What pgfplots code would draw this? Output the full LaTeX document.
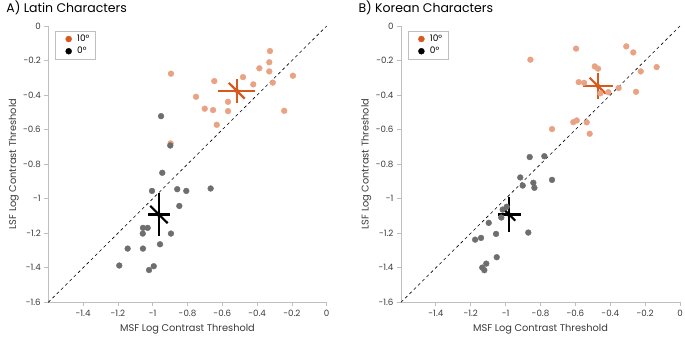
\documentclass[border=0pt]{standalone}
\usepackage{pgfplots}
\pgfplotsset{compat=1.18}
\usepackage{fontspec}
\setmainfont{Poppins}
\definecolor{orL}{HTML}{E9A283}
\definecolor{orD}{HTML}{D65A1F}
\definecolor{grP}{HTML}{6E6E6E}
\definecolor{axg}{HTML}{BFBFBF}
\definecolor{txg}{HTML}{3A3A3A}
\pgfplotsset{
  panel/.style={
    scale only axis, width=278.4pt, height=276.3pt,
    xmin=-1.6, xmax=0, ymin=-1.6, ymax=0,
    axis x line=bottom, axis y line=left,
    axis line style={-, axg, line width=1pt},
    tick style={axg, line width=0.8pt},
    major tick length=4pt, tick align=outside,
    xtick={-1.4,-1.2,-1,-0.8,-0.6,-0.4,-0.2,0},
    ytick={-1.6,-1.4,-1.2,-1,-0.8,-0.6,-0.4,-0.2,0},
    /pgf/number format/assume math mode=true,
    tick label style={font=\fontsize{8.7}{10}\selectfont, txg},
    label style={font=\fontsize{9.8}{11}\selectfont, txg},
    xlabel={MSF Log Contrast Threshold},
    ylabel={LSF Log Contrast Threshold},
    xlabel style={at={(axis description cs:0.5,-0.098)}, anchor=center},
    ylabel style={at={(axis description cs:-0.124,0.5)}, anchor=center},
    title style={at={(0,1)}, anchor=base west, font=\fontsize{12.5}{14}\selectfont, black},
    legend style={at={(axis description cs:0.024,0.982)}, anchor=north west,
      draw=axg, font=\fontsize{9}{10}\selectfont,
      nodes={inner xsep=3pt, inner ysep=1.8pt},
      row sep=0.5pt},
    legend cell align=left,
    clip=false,
  },
  lgimg/.style={legend image code/.code={%
      \path[draw=none, fill=none] (0pt,0pt) -- (16pt,0pt);
      \draw[##1] plot coordinates {(10.5pt,0pt)};}},
  orpts/.style={only marks, mark=*, mark size=2.9pt, color=orL},
  grpts/.style={only marks, mark=*, mark size=2.9pt, color=grP},
}
\begin{document}
\begin{tikzpicture}
\path[use as bounding box] (0,0) rectangle (685pt,338pt);
% ---------------- Panel A ----------------
\begin{axis}[panel, at={(48.3pt,35.7pt)}, anchor=south west,
  title={A) Latin Characters}, title style={xshift=-45.5pt, yshift=7pt}]
\addlegendimage{only marks, mark=*, mark size=3pt, color=orD, lgimg}
\addlegendentry{10°}
\addlegendimage{only marks, mark=*, mark size=3pt, color=black, lgimg}
\addlegendentry{0°}
\addplot[black, dashed, line width=0.6pt, forget plot] coordinates {(-1.6,-1.6) (0,0)};
\addplot[orpts, forget plot] coordinates {
(-0.895,-0.276) (-0.326,-0.145) (-0.33,-0.21) (-0.387,-0.245) (-0.33,-0.263)
(-0.194,-0.288) (-0.481,-0.296) (-0.646,-0.319) (-0.422,-0.338) (-0.31,-0.328)
(-0.751,-0.41) (-0.567,-0.439) (-0.701,-0.479) (-0.653,-0.487) (-0.567,-0.493)
(-0.244,-0.491) (-0.632,-0.572) (-0.897,-0.68)};
\addplot[grpts, forget plot] coordinates {
(-0.952,-0.522) (-0.899,-0.692) (-0.945,-0.85) (-1.004,-0.955) (-0.859,-0.945)
(-0.807,-0.955) (-0.667,-0.941) (-0.847,-1.042) (-1.056,-1.169) (-1.029,-1.169)
(-1.057,-1.202) (-0.895,-1.202) (-1.144,-1.289) (-1.056,-1.289) (-0.958,-1.264)
(-1.192,-1.387) (-0.994,-1.391) (-1.021,-1.413)};
% crosses
\addplot[orD, only marks, mark=*, mark size=2pt, forget plot,
  error bars/.cd, x dir=both, x explicit, y dir=both, y explicit,
  error mark=none, error bar style={line width=2.2pt, orD}]
  coordinates {(-0.517,-0.375) +- (0.105,0.069)};
\addplot[orD, line width=2.2pt, forget plot] coordinates {(-0.563,-0.329) (-0.471,-0.421)};
\addplot[black, only marks, mark=*, mark size=2pt, forget plot,
  error bars/.cd, x dir=both, x explicit, y dir=both, y explicit,
  error mark=none, error bar style={line width=2.2pt, black}]
  coordinates {(-0.964,-1.092) +- (0.062,0.123)};
\addplot[black, line width=2.2pt, forget plot] coordinates {(-1.014,-1.042) (-0.914,-1.142)};
\end{axis}
% ---------------- Panel B ----------------
\begin{axis}[panel, at={(401pt,35.7pt)}, anchor=south west, width=279pt,
  title={B) Korean Characters}, title style={xshift=-46pt, yshift=7pt}]
\addlegendimage{only marks, mark=*, mark size=3pt, color=orD, lgimg}
\addlegendentry{10°}
\addlegendimage{only marks, mark=*, mark size=3pt, color=black, lgimg}
\addlegendentry{0°}
\addplot[black, dashed, line width=0.6pt, forget plot] coordinates {(-1.6,-1.6) (0,0)};
\addplot[orpts, forget plot] coordinates {
(-0.858,-0.195) (-0.596,-0.131) (-0.308,-0.118) (-0.268,-0.153) (-0.134,-0.238)
(-0.225,-0.263) (-0.489,-0.234) (-0.47,-0.247) (-0.581,-0.325) (-0.55,-0.329)
(-0.457,-0.39) (-0.411,-0.383) (-0.352,-0.359) (-0.252,-0.381) (-0.612,-0.557)
(-0.592,-0.547) (-0.535,-0.558) (-0.734,-0.597) (-0.518,-0.624)};
\addplot[grpts, forget plot] coordinates {
(-0.862,-0.759) (-0.778,-0.754) (-0.916,-0.877) (-0.902,-0.924) (-0.841,-0.908)
(-0.835,-0.937) (-0.734,-0.891) (-0.994,-1.047) (-1.017,-1.063) (-1.025,-1.109)
(-1.097,-1.14) (-1.055,-1.204) (-0.87,-1.196) (-1.175,-1.237) (-1.141,-1.227)
(-1.051,-1.339) (-1.111,-1.376) (-1.134,-1.399) (-1.122,-1.414)};
\addplot[orD, only marks, mark=*, mark size=2pt, forget plot,
  error bars/.cd, x dir=both, x explicit, y dir=both, y explicit,
  error mark=none, error bar style={line width=2.2pt, orD}]
  coordinates {(-0.472,-0.346) +- (0.085,0.075)};
\addplot[orD, line width=2.2pt, forget plot] coordinates {(-0.518,-0.300) (-0.426,-0.392)};
\addplot[black, only marks, mark=*, mark size=2pt, forget plot,
  error bars/.cd, x dir=both, x explicit, y dir=both, y explicit,
  error mark=none, error bar style={line width=2.2pt, black}]
  coordinates {(-0.98,-1.092) +- (0.066,0.1)};
\addplot[black, line width=2.2pt, forget plot] coordinates {(-1.015,-1.057) (-0.945,-1.127)};
\end{axis}
\end{tikzpicture}
\end{document}
